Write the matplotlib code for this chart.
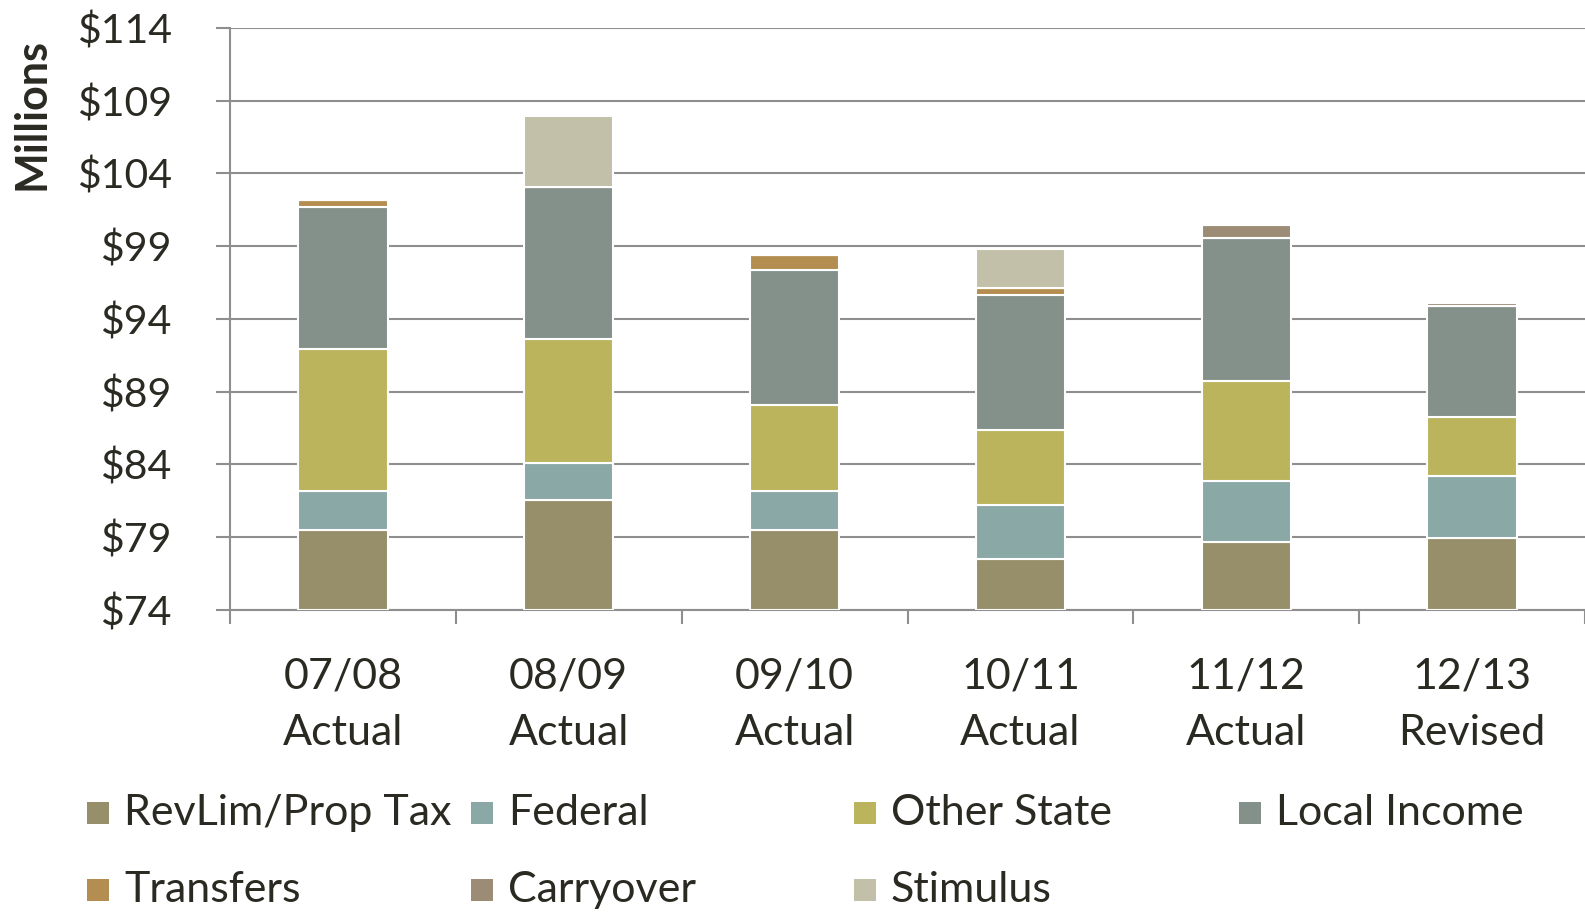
import matplotlib.pyplot as plt
from matplotlib.patches import Rectangle
import numpy as np

# DATA ($ millions, stacked from the $74 floor)
years = ['07/08\nActual', '08/09\nActual', '09/10\nActual', '10/11\nActual', '11/12\nActual', '12/13\nRevised']
revlim = [5.53, 7.57, 5.53, 3.50, 4.64, 4.98]
federal = [2.68, 2.56, 2.65, 3.70, 4.25, 4.26]
other_state = [9.74, 8.48, 5.92, 5.19, 6.86, 4.04]
local_income = [9.71, 10.47, 9.29, 9.24, 9.79, 7.62]
transfers = [0.51, 0.0, 1.03, 0.52, 0.0, 0.0]
carryover = [0.0, 0.0, 0.0, 0.0, 0.91, 0.20]
stimulus = [0.0, 4.87, 0.0, 2.63, 0.0, 0.0]
base = 74
yticks = [74, 79, 84, 89, 94, 99, 104, 109, 114]

series = [
    ('RevLim/Prop Tax', revlim, '#968f6a'),
    ('Federal', federal, '#8aa8a6'),
    ('Other State', other_state, '#bbb45c'),
    ('Local Income', local_income, '#84908a'),
    ('Transfers', transfers, '#b38e50'),
    ('Carryover', carryover, '#9c8b75'),
    ('Stimulus', stimulus, '#c2c0a8'),
]

plt.rcParams['font.family'] = ['Lato', 'DejaVu Sans']
txt = '#2b2a22'
gridc = '#8e8e8e'

fig = plt.figure(figsize=(15.85, 9.13), dpi=100)
ax = fig.add_axes([230/1585, 1-610/913, 1-230/1585, (610-27.8)/913])

x = np.arange(len(years))
bottom = np.full(len(years), float(base))
for name, vals, col in series:
    vals = np.array(vals)
    ax.bar(x, vals, 0.395, bottom=bottom, color=col, edgecolor='white', linewidth=1.5, zorder=3)
    bottom = bottom + vals

ax.set_xlim(-0.5, 5.5)
ax.set_ylim(74, 114)
ax.set_yticks(yticks)
ax.set_yticklabels([f'${v}' for v in yticks], fontsize=29.5, color=txt)
ax.yaxis.grid(True, color=gridc, linewidth=1.5, zorder=0)
ax.set_axisbelow(True)

ax.set_xticks(x)
ax.set_xticklabels(years, fontsize=31, color=txt, linespacing=1.6)
ax.set_xticks(np.arange(-0.5, 5.6, 1), minor=True)
ax.tick_params(axis='x', which='major', length=0, pad=34)
ax.tick_params(axis='x', which='minor', length=10, width=1.5, color=gridc)
ax.tick_params(axis='y', length=10, width=1.5, color=gridc, pad=32)

for s in ['top', 'right']:
    ax.spines[s].set_visible(False)
for s in ['left', 'bottom']:
    ax.spines[s].set_color(gridc)
    ax.spines[s].set_linewidth(1.5)

fig.text(31/1585, 1-114/913, 'Millions', rotation=90, fontsize=31, fontweight='bold',
         color=txt, ha='center', va='center')

# legend laid out in fixed columns
col_x = [87, 471, 854, 1239]
row_y = [813, 890]
W, H = 1585, 913
for i, (name, vals, col) in enumerate(series):
    cx = col_x[i % 4]
    cy = row_y[i // 4]
    fig.patches.append(Rectangle((cx/W, (H-cy-11)/H), 22/W, 22/H, transform=fig.transFigure,
                                 facecolor=col, edgecolor='none'))
    fig.text((cx+37)/W, (H-cy)/H, name, fontsize=31, color=txt, ha='left', va='center')

fig.savefig('out.png', dpi=100)
